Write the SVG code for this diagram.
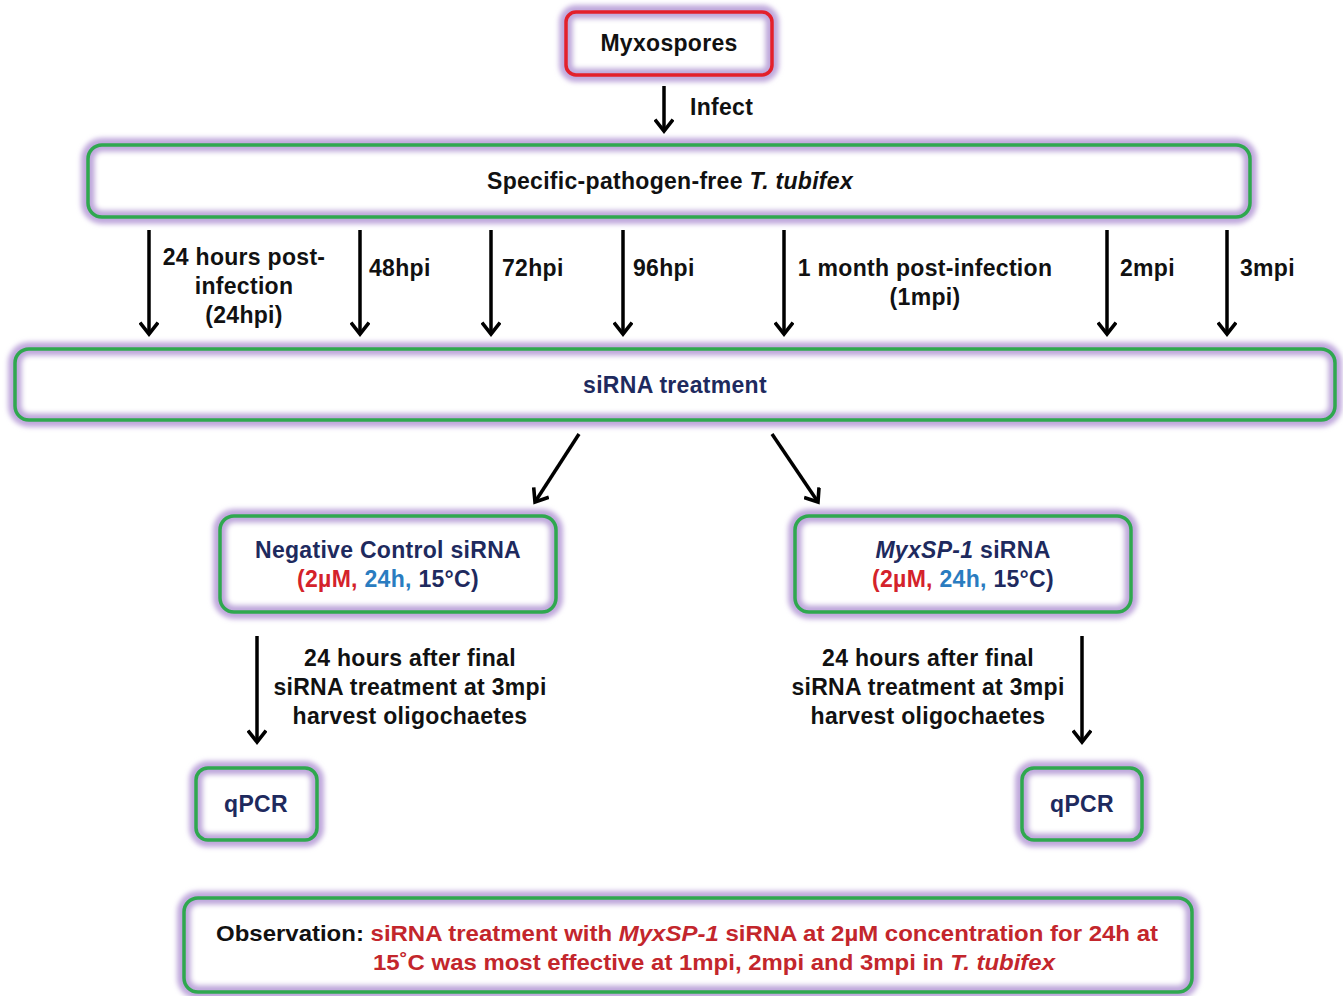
<svg xmlns="http://www.w3.org/2000/svg" width="1343" height="996" viewBox="0 0 1343 996">
<defs>
<filter id="glow" x="-10%" y="-30%" width="120%" height="160%"><feGaussianBlur stdDeviation="2.5"/></filter>
<marker id="ah" viewBox="0 0 20 20" refX="17" refY="10" markerWidth="20" markerHeight="20" markerUnits="userSpaceOnUse" orient="auto">
<path d="M5.5,1 L17,10 L5.5,19" fill="none" stroke="#000" stroke-width="3.6"/>
</marker>
</defs>
<style>
.halo{fill:#fff;stroke:#bfa8dc;stroke-width:14;filter:url(#glow)}
.box{fill:none;stroke:#2fa84f;stroke-width:3.5}
.rbox{fill:none;stroke:#e3202b;stroke-width:3.5}
text{font-family:"Liberation Sans",Arial,sans-serif;font-weight:bold;font-size:23px;letter-spacing:0.3px;fill:#111}
.c{text-anchor:middle}
.navy{fill:#1e2a5e}
.red{fill:#d4222b}
.blue{fill:#2a7cc0}
.ored{fill:#c3262c}
.obs{font-size:22px;letter-spacing:0}
.arr{stroke:#000;stroke-width:3.5;fill:none;marker-end:url(#ah)}
</style>
<rect width="1343" height="996" fill="#fff"/>

<g id="myxospores">
<rect class="halo" x="566" y="12" width="206" height="63" rx="10"/>
<rect class="rbox" x="566" y="12" width="206" height="63" rx="10"/>
<text class="c" x="669" y="51">Myxospores</text>
</g>

<g id="spf">
<rect class="halo" x="88" y="145" width="1162" height="72" rx="14"/>
<rect class="box" x="88" y="145" width="1162" height="72" rx="14"/>
<text class="c" x="670" y="189">Specific-pathogen-free <tspan font-style="italic">T. tubifex</tspan></text>
</g>

<g id="sirna">
<rect class="halo" x="15" y="349" width="1320" height="71" rx="14"/>
<rect class="box" x="15" y="349" width="1320" height="71" rx="14"/>
<text class="c navy" x="675" y="393">siRNA treatment</text>
</g>

<g id="negctrl">
<rect class="halo" x="220" y="516" width="336" height="96" rx="14"/>
<rect class="box" x="220" y="516" width="336" height="96" rx="14"/>
<text class="c navy" x="388" y="558">Negative Control siRNA</text>
<text class="c navy" x="388" y="587"><tspan class="red">(2µM, </tspan><tspan class="blue">24h, </tspan>15°C)</text>
</g>

<g id="myxsp1">
<rect class="halo" x="795" y="516" width="336" height="96" rx="14"/>
<rect class="box" x="795" y="516" width="336" height="96" rx="14"/>
<text class="c navy" x="963" y="558"><tspan font-style="italic">MyxSP-1</tspan> siRNA</text>
<text class="c navy" x="963" y="587"><tspan class="red">(2µM, </tspan><tspan class="blue">24h, </tspan>15°C)</text>
</g>

<g id="qpcr1">
<rect class="halo" x="196" y="768" width="121" height="72" rx="12"/>
<rect class="box" x="196" y="768" width="121" height="72" rx="12"/>
<text class="c navy" x="256" y="812">qPCR</text>
</g>

<g id="qpcr2">
<rect class="halo" x="1022" y="768" width="120" height="72" rx="12"/>
<rect class="box" x="1022" y="768" width="120" height="72" rx="12"/>
<text class="c navy" x="1082" y="812">qPCR</text>
</g>

<g id="observation">
<rect class="halo" x="184" y="898" width="1008" height="94" rx="14"/>
<rect class="box" x="184" y="898" width="1008" height="94" rx="14"/>
<text class="obs" x="216" y="941" textLength="942" lengthAdjust="spacingAndGlyphs">Observation: <tspan class="ored">siRNA treatment with <tspan font-style="italic">MyxSP-1</tspan> siRNA at 2µM concentration for 24h at</tspan></text>
<text class="obs ored" x="373" y="970" textLength="682" lengthAdjust="spacingAndGlyphs">15˚C was most effective at 1mpi, 2mpi and 3mpi in <tspan font-style="italic">T. tubifex</tspan></text>
</g>

<g id="connectors">
<line class="arr" x1="664" y1="86" x2="664" y2="131"/>
<line class="arr" x1="149" y1="230" x2="149" y2="334"/>
<line class="arr" x1="360" y1="230" x2="360" y2="334"/>
<line class="arr" x1="491" y1="230" x2="491" y2="334"/>
<line class="arr" x1="623" y1="230" x2="623" y2="334"/>
<line class="arr" x1="784" y1="230" x2="784" y2="334"/>
<line class="arr" x1="1107" y1="230" x2="1107" y2="334"/>
<line class="arr" x1="1227" y1="230" x2="1227" y2="334"/>
<line class="arr" x1="579" y1="434" x2="535" y2="502"/>
<line class="arr" x1="772" y1="434" x2="818" y2="502"/>
<line class="arr" x1="257" y1="636" x2="257" y2="742"/>
<line class="arr" x1="1082" y1="636" x2="1082" y2="742"/>
</g>

<g id="labels">
<text x="690" y="115">Infect</text>
<text class="c" x="244" y="265">24 hours post-</text>
<text class="c" x="244" y="294">infection</text>
<text class="c" x="244" y="323">(24hpi)</text>
<text x="369" y="276">48hpi</text>
<text x="502" y="276">72hpi</text>
<text x="633" y="276">96hpi</text>
<text class="c" x="925" y="276">1 month post-infection</text>
<text class="c" x="925" y="305">(1mpi)</text>
<text x="1120" y="276">2mpi</text>
<text x="1240" y="276">3mpi</text>
<text class="c" x="410" y="666">24 hours after final</text>
<text class="c" x="410" y="695">siRNA treatment at 3mpi</text>
<text class="c" x="410" y="724">harvest oligochaetes</text>
<text class="c" x="928" y="666">24 hours after final</text>
<text class="c" x="928" y="695">siRNA treatment at 3mpi</text>
<text class="c" x="928" y="724">harvest oligochaetes</text>
</g>
</svg>
